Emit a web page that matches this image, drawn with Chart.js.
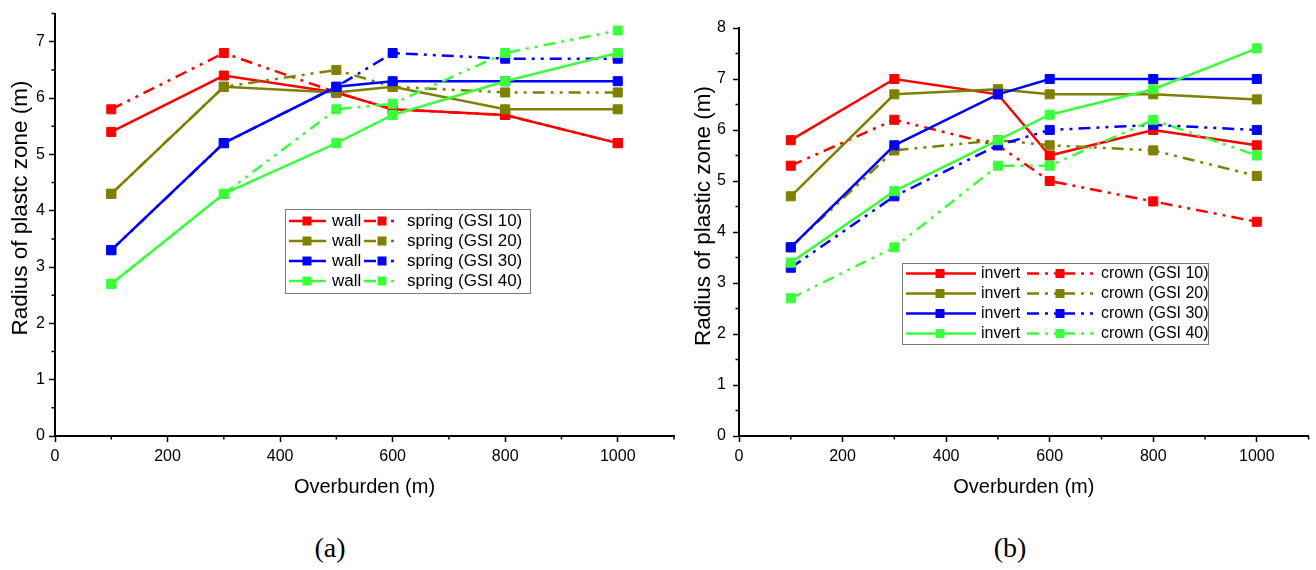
<!DOCTYPE html>
<html>
<head>
<meta charset="utf-8">
<script src="https://cdn.jsdelivr.net/npm/chart.js@4.4.1/dist/chart.umd.min.js"></script>
<style>
  html, body { margin: 0; padding: 0; background: #fff; }
  #page { position: relative; width: 1316px; height: 570px; background: #fff; overflow: hidden; }
  .box { position: absolute; top: 0; height: 510px; }
  .cap { position: absolute; top: 532px; line-height: 32px; font-family: "Liberation Serif", "Times New Roman", serif;
         font-size: 28px; color: #000; transform: translateX(-50%); }
</style>
</head>
<body>
<div id="page">
  <div class="box" style="left:0;width:690px"><canvas id="chartA"></canvas></div>
  <div class="box" style="left:690px;width:626px"><canvas id="chartB"></canvas></div>
  <div class="cap" style="left:330px">(a)</div>
  <div class="cap" style="left:1010px">(b)</div>
</div>
<script>
// x values shared by both panels
const overburden = [100, 300, 500, 600, 800, 1000];
const gsiLabels = ['GSI 10', 'GSI 20', 'GSI 30', 'GSI 40'];
const gsiColors = ['#ff0000', '#808000', '#0000ff', '#3cff3c'];

// (a) wall / spring
const wallGSI10   = [5.4, 6.4, 6.1, 5.8, 5.7, 5.2];
const springGSI10 = [5.8, 6.8, 6.1, 5.8, 5.7, 5.2];
const wallGSI20   = [4.3, 6.2, 6.1, 6.2, 5.8, 5.8];
const springGSI20 = [4.3, 6.2, 6.5, 6.2, 6.1, 6.1];
const wallGSI30   = [3.3, 5.2, 6.2, 6.3, 6.3, 6.3];
const springGSI30 = [3.3, 5.2, 6.2, 6.8, 6.7, 6.7];
const wallGSI40   = [2.7, 4.3, 5.2, 5.7, 6.3, 6.8];
const springGSI40 = [2.7, 4.3, 5.8, 5.9, 6.8, 7.2];

// (b) invert / crown
const invertGSI10 = [5.8, 7.0, 6.7, 5.5, 6.0, 5.7];
const crownGSI10  = [5.3, 6.2, 5.7, 5.0, 4.6, 4.2];
const invertGSI20 = [4.7, 6.7, 6.8, 6.7, 6.7, 6.6];
const crownGSI20  = [3.7, 5.6, 5.8, 5.7, 5.6, 5.1];
const invertGSI30 = [3.7, 5.7, 6.7, 7.0, 7.0, 7.0];
const crownGSI30  = [3.3, 4.7, 5.7, 6.0, 6.1, 6.0];
const invertGSI40 = [3.4, 4.8, 5.8, 6.3, 6.8, 7.6];
const crownGSI40  = [2.7, 3.7, 5.3, 5.3, 6.2, 5.5];

Chart.defaults.font.family = '"Liberation Sans", Arial, sans-serif';
Chart.defaults.color = '#000';

const dashDotDot = [12, 6, 3, 6, 3, 6];

function buildSets(solid, dashed, solidName, dashName) {
  const sets = [];
  solid.forEach((arr, g) => {
    [[arr, solidName, []], [dashed[g], dashName + ' (' + gsiLabels[g] + ')', dashDotDot]].forEach(([vals, name, dash]) => {
      const c = gsiColors[g];
      sets.push({
        label: name,
        data: overburden.map((x, i) => ({ x: x, y: vals[i] })),
        borderColor: c,
        backgroundColor: c,
        borderWidth: 2.5,
        borderDash: dash,
        pointStyle: 'rect',
        pointRadius: 6.4,
        pointBorderWidth: 1,
        pointBorderColor: c,
        pointBackgroundColor: c,
        tension: 0,
        order: -sets.length
      });
    });
  });
  return sets;
}

// minor tick marks between the major ones, plus the rotated y title
const axisExtras = {
  id: 'axisExtras',
  afterDraw(chart, args, opts) {
    const ctx = chart.ctx;
    const xs = chart.scales.x, ys = chart.scales.y;
    ctx.save();
    ctx.strokeStyle = '#000';
    ctx.lineWidth = 1.5;
    ctx.beginPath();
    for (let v = opts.xMinor; v <= xs.max + 1e-6; v += opts.xMinor * 2) {
      const px = xs.getPixelForValue(v);
      ctx.moveTo(px, xs.top);
      ctx.lineTo(px, xs.top + 3.5);
    }
    for (let v = opts.yMinor; v <= ys.max + 1e-6; v += opts.yMinor * 2) {
      const py = ys.getPixelForValue(v);
      ctx.moveTo(ys.right, py);
      ctx.lineTo(ys.right - 3.5, py);
    }
    ctx.stroke();

    ctx.translate(opts.titleX, opts.titleY);
    ctx.rotate(-Math.PI / 2);
    ctx.font = opts.titleSize + 'px "Liberation Sans", Arial, sans-serif';
    ctx.fillStyle = '#000';
    ctx.textAlign = 'center';
    ctx.textBaseline = 'middle';
    ctx.fillText(opts.title, 0, 0);
    ctx.restore();
  }
};

// two column legend: solid series left, dashed series right
const pairLegend = {
  id: 'pairLegend',
  afterDraw(chart, args, o) {
    const ctx = chart.ctx;
    const sets = chart.data.datasets;
    ctx.save();
    ctx.fillStyle = '#fff';
    ctx.fillRect(o.x, o.y, o.w, o.h);
    ctx.strokeStyle = '#7a7a7a';
    ctx.lineWidth = 1;
    ctx.strokeRect(o.x + 0.5, o.y + 0.5, o.w, o.h);
    ctx.font = o.size + 'px "Liberation Sans", Arial, sans-serif';
    ctx.textBaseline = 'middle';
    const rows = sets.length / 2;
    const y0 = o.y + (o.h - (rows - 1) * 20) / 2;
    for (let r = 0; r < rows; r++) {
      const y = y0 + r * 20;
      o.cols.forEach((col, k) => {
        const ds = sets[r * 2 + k];
        ctx.strokeStyle = ds.borderColor;
        ctx.lineWidth = ds.borderWidth;
        ctx.setLineDash(ds.borderDash);
        ctx.beginPath();
        ctx.moveTo(col.from, y);
        ctx.lineTo(col.to, y);
        ctx.stroke();
        ctx.setLineDash([]);
        ctx.fillStyle = ds.borderColor;
        ctx.fillRect(col.mark - 4.5, y - 4.5, 9, 9);
        ctx.fillStyle = '#000';
        ctx.fillText(ds.label, col.text, y);
      });
    }
    ctx.restore();
  }
};

function makeChart(id, sets, cfg) {
  return new Chart(document.getElementById(id), {
    type: 'line',
    data: { datasets: sets },
    plugins: [axisExtras, pairLegend],
    options: {
      responsive: true,
      maintainAspectRatio: false,
      animation: false,
      events: [],
      layout: { padding: cfg.padding },
      plugins: {
        legend: { display: false },
        tooltip: { enabled: false },
        axisExtras: { xMinor: 100, yMinor: 0.5, title: cfg.yTitle, titleX: cfg.titleX, titleY: cfg.titleY, titleSize: 22.5 },
        pairLegend: cfg.legend
      },
      scales: {
        x: {
          type: 'linear',
          min: 0, max: 1100,
          border: { color: '#000', width: 2 },
          grid: { drawOnChartArea: false, tickLength: 6, tickColor: '#000', tickWidth: 1.5 },
          ticks: { stepSize: 200, includeBounds: false, padding: 5, maxRotation: 0,
                   font: { size: 16 }, callback: v => String(v) },
          title: { display: true, text: 'Overburden (m)', font: { size: 20 }, padding: { top: 0, bottom: 11 } },
          afterFit(s) { s.height = 74; }
        },
        y: {
          min: 0, max: cfg.yMax,
          border: { color: '#000', width: 2 },
          grid: { drawOnChartArea: false, tickLength: 6, tickColor: '#000', tickWidth: 1.5 },
          ticks: { stepSize: 1, includeBounds: false, padding: cfg.yTickPad,
                   font: { size: 16 }, callback: v => String(v) },
          afterFit(s) { s.width = cfg.yWidth; }
        }
      }
    }
  });
}

makeChart('chartA',
  buildSets([wallGSI10, wallGSI20, wallGSI30, wallGSI40],
            [springGSI10, springGSI20, springGSI30, springGSI40], 'wall', 'spring'),
  {
    padding: { top: 10, right: 16, left: 0, bottom: 0 },
    yMax: 7.5, yWidth: 55, yTickPad: 4,
    yTitle: 'Radius of plastc zone (m)', titleX: 21, titleY: 208,
    legend: { x: 285, y: 209, w: 245, h: 84, size: 17,
              cols: [{ from: 289, to: 326, mark: 307, text: 332 },
                     { from: 364, to: 400, mark: 382, text: 407 }] }
  });

makeChart('chartB',
  buildSets([invertGSI10, invertGSI20, invertGSI30, invertGSI40],
            [crownGSI10, crownGSI20, crownGSI30, crownGSI40], 'invert', 'crown'),
  {
    padding: { top: 28, right: 3, left: 0, bottom: 0 },
    yMax: 8, yWidth: 49, yTickPad: 7,
    yTitle: 'Radius of plastic zone (m)', titleX: 14, titleY: 216,
    legend: { x: 212, y: 263, w: 306, h: 81, size: 16,
              cols: [{ from: 216, to: 286, mark: 250, text: 291 },
                     { from: 337, to: 407, mark: 370, text: 411 }] }
  });
</script>
</body>
</html>
